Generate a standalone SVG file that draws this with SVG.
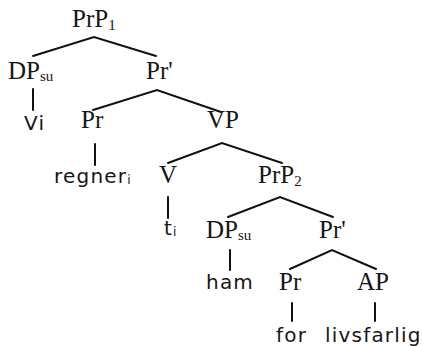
<svg xmlns="http://www.w3.org/2000/svg" width="422" height="346" viewBox="0 0 422 346">
  <style>
    .cat { font-family: "Liberation Serif", "Times New Roman", serif; font-size: 25px; fill: #161616; }
    .sub { font-size: 15px; }
    .word { font-family: "DejaVu Sans", "Liberation Sans", sans-serif; font-size: 20px; letter-spacing: 1.2px; fill: #161616; }
    .wsub { font-size: 12px; letter-spacing: 0; }
    .edge { stroke: #111; stroke-width: 2; fill: none; stroke-linecap: round; }
  </style>
  <rect width="422" height="346" fill="#ffffff"/>

  <!-- connectors -->
  <g id="edges">
    <path class="edge" d="M33 56 L94 37 L156 56"/>
    <path class="edge" d="M33 89 L33 110"/>
    <path class="edge" d="M93 110 L157 90 L221 112"/>
    <path class="edge" d="M95 144 L95 165"/>
    <path class="edge" d="M168 163 L222 143 L282 163"/>
    <path class="edge" d="M168 197 L168 218"/>
    <path class="edge" d="M228 217 L280 197 L333 217"/>
    <path class="edge" d="M230 250 L230 270"/>
    <path class="edge" d="M290 269 L332 250 L376 269"/>
    <path class="edge" d="M292 303 L292 321"/>
    <path class="edge" d="M375 303 L375 321"/>
  </g>

  <!-- nodes -->
  <g id="PrP1"><text class="cat" x="72" y="27">PrP<tspan class="sub" dy="3">1</tspan></text></g>
  <g id="DPsu1"><text class="cat" x="8" y="79">DP<tspan class="sub" dy="2">su</tspan></text></g>
  <g id="Prbar1"><text class="cat" x="146" y="79">Pr'</text></g>
  <g id="Vi"><text class="word" x="24" y="130">Vi</text></g>
  <g id="Pr1"><text class="cat" x="81" y="128">Pr</text></g>
  <g id="VP"><text class="cat" x="207" y="128">VP</text></g>
  <g id="regner"><text class="word" x="54" y="183">regner<tspan class="wsub" dy="1">i</tspan></text></g>
  <g id="V"><text class="cat" x="159" y="183">V</text></g>
  <g id="PrP2"><text class="cat" x="258" y="183">PrP<tspan class="sub" dy="3">2</tspan></text></g>
  <g id="ti"><text class="word" x="164" y="235">t<tspan class="wsub" dy="1">i</tspan></text></g>
  <g id="DPsu2"><text class="cat" x="206" y="238">DP<tspan class="sub" dy="2">su</tspan></text></g>
  <g id="Prbar2"><text class="cat" x="319" y="238">Pr'</text></g>
  <g id="ham"><text class="word" x="206" y="289">ham</text></g>
  <g id="Pr2"><text class="cat" x="279" y="290">Pr</text></g>
  <g id="AP"><text class="cat" x="357" y="290">AP</text></g>
  <g id="for"><text class="word" x="276" y="342">for</text></g>
  <g id="livsfarlig"><text class="word" x="325" y="342">livsfarlig</text></g>
</svg>
